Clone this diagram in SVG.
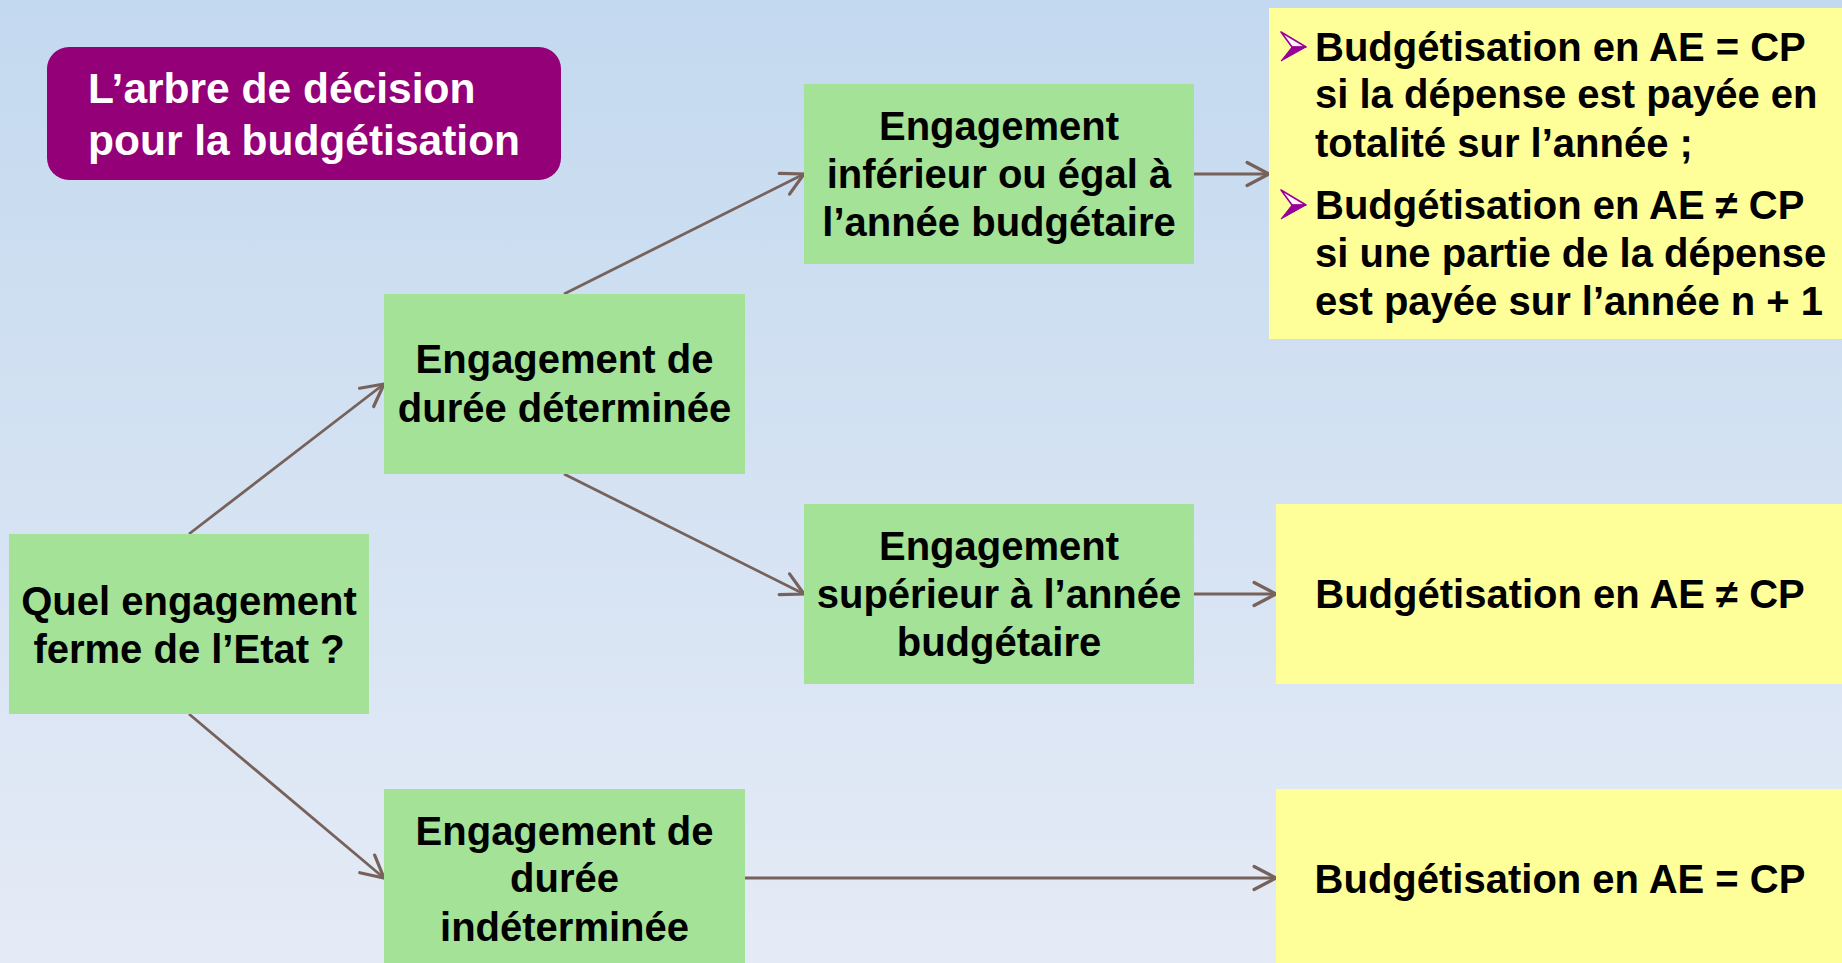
<svg xmlns="http://www.w3.org/2000/svg" width="1842" height="963" viewBox="0 0 1842 963">
<defs>
<linearGradient id="bg" x1="0" y1="0" x2="0" y2="1">
<stop offset="0" stop-color="#c3d9ef"/>
<stop offset="1" stop-color="#e5ebf6"/>
</linearGradient>
<marker id="arr" markerUnits="userSpaceOnUse" markerWidth="30" markerHeight="30" viewBox="-22 -13 26 26" refX="0" refY="0" orient="auto">
<path d="M-19,-10 L0,0 L-19,10" fill="none" stroke="#76625b" stroke-width="2.8" stroke-linecap="round" stroke-linejoin="miter"/>
</marker>
</defs>
<style>
.g{fill:#a3e297}
.y{fill:#ffff99}
.t{font-family:"Liberation Sans",Arial,sans-serif;font-weight:bold;font-size:40px;fill:#000}
.c{text-anchor:middle}
.w{fill:#fff;font-size:42.5px}
.con line{stroke:#76625b;stroke-width:2.8;marker-end:url(#arr)}
</style>
<rect x="0" y="0" width="1842" height="963" fill="url(#bg)"/>

<g id="title">
<rect x="47" y="47" width="514" height="133" rx="22" fill="#940078"/>
<text class="t w" x="88" y="103">L’arbre de décision</text>
<text class="t w" x="88" y="155">pour la budgétisation</text>
</g>

<g id="connectors" class="con">
<line x1="189" y1="534" x2="384" y2="384"/>
<line x1="189" y1="714" x2="384" y2="878"/>
<line x1="564" y1="294" x2="804" y2="174"/>
<line x1="564" y1="474" x2="804" y2="594"/>
<line x1="1194" y1="174" x2="1269" y2="174"/>
<line x1="1194" y1="594" x2="1276" y2="594"/>
<line x1="745" y1="878" x2="1276" y2="878"/>
</g>

<g id="n-quel">
<rect class="g" x="9" y="534" width="360" height="180"/>
<text class="t c" x="189" y="615">Quel engagement</text>
<text class="t c" x="189" y="663">ferme de l’Etat ?</text>
</g>

<g id="n-determinee">
<rect class="g" x="384" y="294" width="361" height="180"/>
<text class="t c" x="564.5" y="373">Engagement de</text>
<text class="t c" x="564.5" y="422">durée déterminée</text>
</g>

<g id="n-indeterminee">
<rect class="g" x="384" y="789" width="361" height="180"/>
<text class="t c" x="564.5" y="845">Engagement de</text>
<text class="t c" x="564.5" y="892">durée</text>
<text class="t c" x="564.5" y="941">indéterminée</text>
</g>

<g id="n-inferieur">
<rect class="g" x="804" y="84" width="390" height="180"/>
<text class="t c" x="999" y="140">Engagement</text>
<text class="t c" x="999" y="188">inférieur ou égal à</text>
<text class="t c" x="999" y="236">l’année budgétaire</text>
</g>

<g id="n-superieur">
<rect class="g" x="804" y="504" width="390" height="180"/>
<text class="t c" x="999" y="560">Engagement</text>
<text class="t c" x="999" y="608">supérieur à l’année</text>
<text class="t c" x="999" y="656">budgétaire</text>
</g>

<g id="r-top">
<rect class="y" x="1269" y="8" width="573" height="331"/>
<g>
<polygon points="1281,32 1306,47 1292,47" fill="#fff6f6" stroke="#990099" stroke-width="1.6" stroke-linejoin="round"/>
<polygon points="1292,47 1306,47 1281,61" fill="#990099" stroke="#990099" stroke-width="1" stroke-linejoin="round"/>
</g>
<g>
<polygon points="1281,190 1306,205 1292,205" fill="#fff6f6" stroke="#990099" stroke-width="1.6" stroke-linejoin="round"/>
<polygon points="1292,205 1306,205 1281,219" fill="#990099" stroke="#990099" stroke-width="1" stroke-linejoin="round"/>
</g>
<text class="t" x="1315" y="61">Budgétisation en AE = CP</text>
<text class="t" x="1315" y="108">si la dépense est payée en</text>
<text class="t" x="1315" y="157">totalité sur l’année ;</text>
<text class="t" x="1315" y="219">Budgétisation en AE ≠ CP</text>
<text class="t" x="1315" y="267">si une partie de la dépense</text>
<text class="t" x="1315" y="315">est payée sur l’année n + 1</text>
</g>

<g id="r-neq">
<rect class="y" x="1276" y="504" width="566" height="180"/>
<text class="t c" x="1560" y="608">Budgétisation en AE ≠ CP</text>
</g>

<g id="r-eq">
<rect class="y" x="1276" y="789" width="566" height="180"/>
<text class="t c" x="1560" y="893">Budgétisation en AE = CP</text>
</g>
</svg>
